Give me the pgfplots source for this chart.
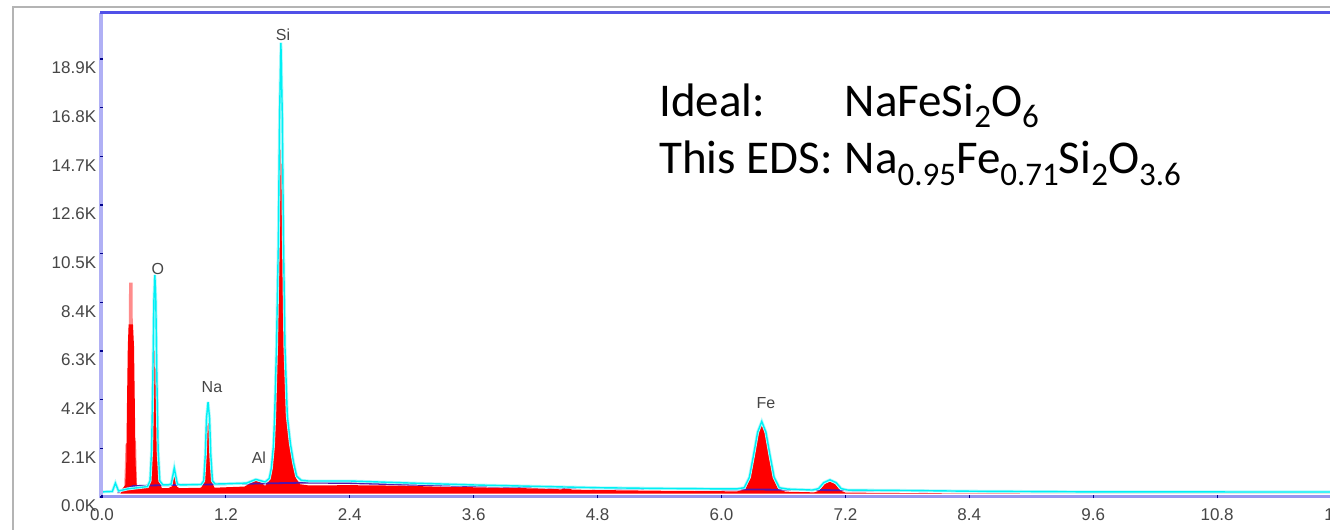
\documentclass[border=0pt]{standalone}
\usepackage{pgfplots}
\pgfplotsset{compat=1.18}
\usepackage{fontspec}
\setmainfont{Carlito}
\newfontfamily\lib{Liberation Sans}
\definecolor{lav}{RGB}{176,176,245}
\definecolor{lavb}{RGB}{150,150,240}
\definecolor{topblue}{RGB}{80,80,232}
\definecolor{framegray}{RGB}{180,180,180}
\definecolor{spcyan}{RGB}{0,240,245}
\definecolor{bgpurple}{RGB}{85,20,170}
\definecolor{tickgray}{RGB}{70,70,70}
\newcommand{\sub}[1]{\raisebox{-5.8pt}{\fontsize{16.5}{17}\selectfont #1}}
\begin{document}
\begin{tikzpicture}
\path[use as bounding box] (-51pt,-16.5pt) rectangle (614pt,248.5pt);
\clip (-51pt,-16.5pt) rectangle (614pt,248.5pt);
\fill[white] (-51pt,-16.5pt) rectangle (614pt,248.5pt);
\draw[framegray, line width=1pt] (-44.6pt,-30pt) -- (-44.6pt,245pt) -- (700pt,245pt);
\begin{axis}[
  scale only axis, width=619.5pt, height=242pt,
  xmin=0, xmax=12, ymin=0, ymax=20885,
  scaled ticks=false,
  axis line style={draw=none},
  axis on top,
  xtick={0,1.2,2.4,3.6,4.8,6.0,7.2,8.4,9.6,10.8,12.0},
  xticklabels={0.0,1.2,2.4,3.6,4.8,6.0,7.2,8.4,9.6,10.8,12.0},
  ytick={0,2100,4200,6300,8400,10500,12600,14700,16800,18900},
  yticklabels={0.0K,2.1K,4.2K,6.3K,8.4K,10.5K,12.6K,14.7K,16.8K,18.9K},
  xtick pos=bottom, ytick pos=left,
  tick align=center, major tick length=1.5pt,
  tick style={draw=blue!55!black, line width=0.6pt},
  /pgf/number format/assume math mode=true,
  ticklabel style={font=\lib\fontsize{8.5}{9}\selectfont, text=tickgray},
  yticklabel style={anchor=east, inner sep=0pt, xshift=-2pt, yshift=-4.5pt},
  xticklabel style={anchor=north, inner sep=0pt, yshift=-5pt},
  clip=false,
]
% pink top of the C peak
\addplot[fill=red!45!white, draw=none] coordinates {
(0.215,400) (0.228,2300) (0.255,2300) (0.262,9250) (0.296,9250) (0.304,2500) (0.33,2400) (0.34,400)};
% red spectrum
\addplot[fill=red, draw=none] coordinates {
(0.15,150) (0.18,150) (0.20,380)
(0.225,500) (0.235,1500) (0.242,4000) (0.250,6500) (0.258,7450) (0.300,7450) (0.310,6500) (0.318,4000) (0.325,1500) (0.335,500)
(0.35,400) (0.44,380)
(0.47,700) (0.485,1900) (0.495,4500) (0.504,7500) (0.512,8600) (0.520,7500) (0.529,4500) (0.539,1900) (0.555,700)
(0.58,380) (0.64,380)
(0.675,450) (0.69,750) (0.70,1000) (0.712,750) (0.725,450)
(0.75,380) (0.96,400)
(0.99,650) (1.003,1700) (1.015,3000) (1.027,3650) (1.039,3000) (1.051,1700) (1.064,650)
(1.09,400) (1.2,420) (1.38,450)
(1.44,600) (1.49,700) (1.54,620)
(1.58,480) (1.62,700) (1.645,1200) (1.662,2100) (1.676,3500) (1.693,6800) (1.710,11500) (1.722,16500) (1.733,18900) (1.744,16500) (1.756,11500) (1.770,6800) (1.79,3600) (1.82,2300) (1.85,1400) (1.88,800) (1.92,550)
(2.0,500) (2.4,510) (2.9,490) (3.3,440) (3.6,420) (4.2,370) (4.45,330) (4.50,430) (4.55,320) (4.8,300) (5.4,270) (6.0,250) (6.15,240)
(6.23,330) (6.28,820) (6.32,1750) (6.355,2700) (6.39,3150) (6.425,2700) (6.46,1750) (6.50,820) (6.55,330)
(6.62,230) (6.90,200)
(6.95,280) (7.0,560) (7.05,660) (7.10,560) (7.15,280)
(7.20,190) (7.8,170) (8.4,155) (9.0,150) (12.5,150)};
% background fit line
\addplot[bgpurple, line width=0.9pt] coordinates {
(0.15,200) (0.3,470) (0.5,500) (1.0,540) (1.5,580) (2.0,620) (2.4,600) (3.0,530) (3.6,470) (4.8,380) (6.0,330) (6.4,320) (7.2,290) (8.0,250)};
% second spectrum (cyan outline)
\addplot[spcyan!30!white, line width=1.5pt] coordinates {
(0.0,220) (0.10,240) (0.13,600) (0.16,260) (0.25,350)
(0.44,450) (0.465,700) (0.48,2000) (0.492,5000) (0.503,8500) (0.512,9580) (0.521,8500) (0.532,5000) (0.544,2000) (0.56,700) (0.59,520)
(0.64,520) (0.67,560) (0.685,900) (0.70,1250) (0.715,900) (0.73,560) (0.76,520)
(0.96,540) (0.985,700) (1.0,1800) (1.012,3400) (1.027,4100) (1.042,3400) (1.054,1800) (1.07,700) (1.095,560)
(1.2,570) (1.4,600) (1.49,760) (1.58,650)
(1.62,800) (1.64,1250) (1.66,2200) (1.672,3500) (1.69,6500) (1.708,11000) (1.72,16500) (1.733,19600) (1.746,16500) (1.758,11000) (1.772,6500) (1.795,3500) (1.825,2300) (1.855,1500) (1.885,900) (1.93,720)
(2.0,690) (2.4,690) (3.0,600) (3.6,520) (4.2,460) (4.8,400) (5.4,370) (6.0,350) (6.15,350)
(6.22,400) (6.27,850) (6.31,1800) (6.35,2800) (6.39,3260) (6.43,2800) (6.47,1800) (6.51,850) (6.56,400)
(6.64,340) (6.88,300)
(6.94,360) (6.99,620) (7.05,740) (7.11,620) (7.16,360)
(7.22,300) (7.8,280) (8.4,250) (9.6,220) (12.5,215)};
\addplot[spcyan, line width=0.7pt] coordinates {
(0.0,220) (0.10,240) (0.13,600) (0.16,260) (0.25,350)
(0.44,450) (0.465,700) (0.48,2000) (0.492,5000) (0.503,8500) (0.512,9580) (0.521,8500) (0.532,5000) (0.544,2000) (0.56,700) (0.59,520)
(0.64,520) (0.67,560) (0.685,900) (0.70,1250) (0.715,900) (0.73,560) (0.76,520)
(0.96,540) (0.985,700) (1.0,1800) (1.012,3400) (1.027,4100) (1.042,3400) (1.054,1800) (1.07,700) (1.095,560)
(1.2,570) (1.4,600) (1.49,760) (1.58,650)
(1.62,800) (1.64,1250) (1.66,2200) (1.672,3500) (1.69,6500) (1.708,11000) (1.72,16500) (1.733,19600) (1.746,16500) (1.758,11000) (1.772,6500) (1.795,3500) (1.825,2300) (1.855,1500) (1.885,900) (1.93,720)
(2.0,690) (2.4,690) (3.0,600) (3.6,520) (4.2,460) (4.8,400) (5.4,370) (6.0,350) (6.15,350)
(6.22,400) (6.27,850) (6.31,1800) (6.35,2800) (6.39,3260) (6.43,2800) (6.47,1800) (6.51,850) (6.56,400)
(6.64,340) (6.88,300)
(6.94,360) (6.99,620) (7.05,740) (7.11,620) (7.16,360)
(7.22,300) (7.8,280) (8.4,250) (9.6,220) (12.5,215)};
% axis lines
\draw[lav, line width=1.7pt] (rel axis cs:-0.0007,-0.003) -- (rel axis cs:-0.0007,1);
\draw[lavb, line width=1.5pt] (rel axis cs:-0.001,0) -- (rel axis cs:1.1,0);
\draw[topblue, line width=1.5pt] (rel axis cs:-0.0015,1) -- (rel axis cs:1.1,1);
% peak labels
\begin{scope}[every node/.style={font=\lib\fontsize{8}{9}\selectfont, text=tickgray, inner sep=0pt}]
\node at (axis cs:1.753,19935) {Si};
\node at (axis cs:0.542,9838) {O};
\node at (axis cs:1.065,4747) {Na};
\node at (axis cs:1.52,1683) {Al};
\node at (axis cs:6.43,4056) {Fe};
\end{scope}
% formula text
\begin{scope}[every node/.style={font=\fontsize{23.5}{27}\selectfont, anchor=base west, inner sep=0pt}]
\node at (axis cs:5.395,16440) {Ideal:};
\node at (axis cs:7.19,16440) {NaFeSi\sub{2}O\sub{6}};
\node at (axis cs:5.395,13940) {This EDS:};
\node at (axis cs:7.19,13940) {Na\sub{0.95}Fe\sub{0.71}Si\sub{2}O\sub{3.6}};
\end{scope}
\end{axis}
\end{tikzpicture}
\end{document}
